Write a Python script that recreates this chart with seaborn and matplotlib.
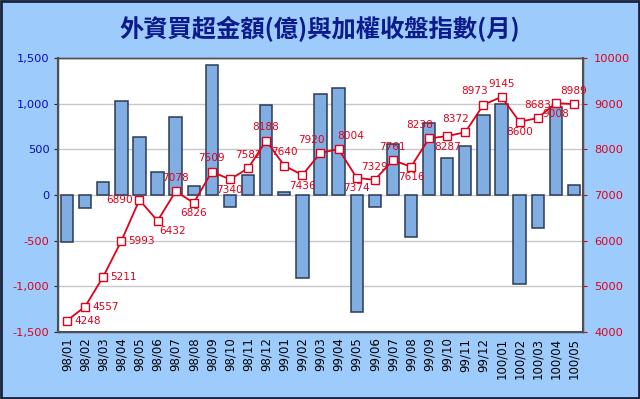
import matplotlib
matplotlib.use("Agg")
import matplotlib.pyplot as plt
from matplotlib.patches import Rectangle
from matplotlib.ticker import FuncFormatter, MultipleLocator
import numpy as np
import pandas as pd
import seaborn as sns

MONTHS = [
    "98/01", "98/02", "98/03", "98/04", "98/05", "98/06", "98/07", "98/08",
    "98/09", "98/10", "98/11", "98/12", "99/01", "99/02", "99/03", "99/04",
    "99/05", "99/06", "99/07", "99/08", "99/09", "99/10", "99/11", "99/12",
    "100/01", "100/02", "100/03", "100/04", "100/05",
]
# foreign net buy (100 million NTD)
NET_BUY = [
    -520, -140, 140, 1030, 630, 250, 850, 100,
    1420, -135, 215, 985, 35, -905, 1105, 1165,
    -1280, -130, 560, -465, 785, 405, 540, 870,
    995, -970, -365, 965, 105,
]
# TAIEX monthly close
INDEX_CLOSE = [
    4248, 4557, 5211, 5993, 6890, 6432, 7078, 6826,
    7509, 7340, 7582, 8188, 7640, 7436, 7920, 8004,
    7374, 7329, 7761, 7616, 8238, 8287, 8372, 8973,
    9145, 8600, 8683, 9008, 8989,
]
# where each index label sits relative to its marker
LABEL_SIDE = [
    "r", "r", "r", "r", "l", "br", "a", "b",
    "a", "b", "a", "a", "a", "b", "al", "ar",
    "b", "a", "a", "b", "al", "b", "al", "al",
    "a", "b", "a", "b", "a",
]

BG = "#9DCBFB"
RED = "#E0001B"
BLUE = "#0A0AC8"

sns.set_style("white")
plt.rcParams["font.family"] = ["DejaVu Sans"]

df = pd.DataFrame({"month": MONTHS, "net_buy": NET_BUY, "close": INDEX_CLOSE})
df["pos"] = np.arange(len(df))

fig = plt.figure(figsize=(6.4, 3.99), dpi=100, facecolor=BG)
ax = fig.add_axes([0.0906, 0.168, 0.8203, 0.687])
ax.set_facecolor("white")

sns.barplot(data=df, x="month", y="net_buy", color="#80AEE2", saturation=1,
            width=0.68, edgecolor="#2C3A55", linewidth=1.1, ax=ax, zorder=2)
ax.set_ylim(-1500, 1500)
ax.yaxis.set_major_locator(MultipleLocator(500))
ax.yaxis.set_major_formatter(FuncFormatter(lambda v, p: f"{v:,.0f}"))
ax.grid(axis="y", color="#C8C8C8", linewidth=1, zorder=0)
ax.set_axisbelow(True)
ax.set_xlabel("")
ax.set_ylabel("")
ax.set_xlim(-0.5, len(df) - 0.5)
ax.tick_params(axis="x", rotation=90, labelsize=8.5, colors="black", length=0, pad=4)
ax.tick_params(axis="y", labelsize=8.2, length=3, pad=3)
for lbl, v in zip(ax.get_yticklabels(), ax.get_yticks()):
    lbl.set_color(RED if v < 0 else BLUE)

ax2 = ax.twinx()
sns.lineplot(data=df, x="pos", y="close", color=RED, linewidth=1.3,
             marker="s", markersize=5.5, markerfacecolor="white",
             markeredgecolor=RED, markeredgewidth=1, ax=ax2, zorder=5)
ax2.set_ylim(4000, 10000)
ax2.yaxis.set_major_locator(MultipleLocator(1000))
ax2.set_xlim(-0.5, len(df) - 0.5)
ax2.set_ylabel("")
ax2.set_xlabel("")
ax2.tick_params(axis="y", labelsize=8.2, colors=RED, length=3, pad=5)
ax2.grid(False)

offsets = {
    "r": ((5, 0), "left", "center"),
    "l": ((-5, 0), "right", "center"),
    "a": ((0, 6), "center", "bottom"),
    "al": ((3, 6), "right", "bottom"),
    "ar": ((-1, 6), "left", "bottom"),
    "b": ((0, -4), "center", "top"),
    "br": ((1, -4), "left", "top"),
}
for x, y, side in zip(df["pos"], df["close"], LABEL_SIDE):
    off, ha, va = offsets[side]
    ax2.annotate(f"{y}", (x, y), xytext=off, textcoords="offset points",
                 ha=ha, va=va, fontsize=7.6, color=RED, zorder=6)

for a in (ax, ax2):
    for name, sp in a.spines.items():
        sp.set_color("#505050")
        sp.set_linewidth(1)
ax.spines["left"].set_linewidth(1.5)
ax.spines["bottom"].set_linewidth(1.5)
ax2.spines["right"].set_linewidth(1.5)

fig.text(0.5, 0.928, "外資買超金額(億)與加權收盤指數(月)", ha="center", va="center",
         fontsize=17.5, fontweight="bold", color="#0D1A8C",
         family=["Noto Sans CJK TC", "DejaVu Sans"])

fig.patches.append(Rectangle((0.002, 0.003), 0.996, 0.994, transform=fig.transFigure,
                             fill=False, edgecolor="#1A2240", linewidth=2))

fig.savefig("out.png", dpi=100, facecolor=BG)
